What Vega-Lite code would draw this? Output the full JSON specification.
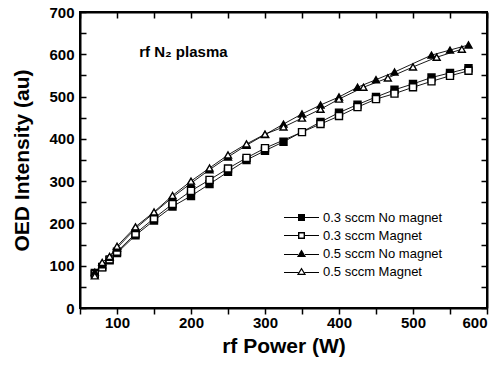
{
  "$schema": "https://vega.github.io/schema/vega-lite/v6.json",
  "width": 502,
  "height": 368,
  "autosize": {"type": "fit", "contains": "padding"},
  "padding": {"left": 11, "top": 5, "right": 14, "bottom": 12},
  "config": {
    "font": "Liberation Sans",
    "view": {"stroke": "black", "strokeWidth": 2},
    "axis": {"grid": false, "ticks": true, "domain": true, "domainColor": "black", "tickColor": "black", "domainWidth": 2, "tickWidth": 1.5, "labelColor": "black", "titleColor": "black", "labelFont": "Liberation Sans", "titleFont": "Liberation Sans"}
  },
  "datasets": {
    "oed": [
      {"power": 70, "intensity": 83, "series": "0.3 sccm No magnet"},
      {"power": 80, "intensity": 97, "series": "0.3 sccm No magnet"},
      {"power": 90, "intensity": 113, "series": "0.3 sccm No magnet"},
      {"power": 100, "intensity": 130, "series": "0.3 sccm No magnet"},
      {"power": 125, "intensity": 172, "series": "0.3 sccm No magnet"},
      {"power": 150, "intensity": 207, "series": "0.3 sccm No magnet"},
      {"power": 175, "intensity": 240, "series": "0.3 sccm No magnet"},
      {"power": 200, "intensity": 265, "series": "0.3 sccm No magnet"},
      {"power": 225, "intensity": 293, "series": "0.3 sccm No magnet"},
      {"power": 250, "intensity": 322, "series": "0.3 sccm No magnet"},
      {"power": 275, "intensity": 350, "series": "0.3 sccm No magnet"},
      {"power": 300, "intensity": 372, "series": "0.3 sccm No magnet"},
      {"power": 325, "intensity": 393, "series": "0.3 sccm No magnet"},
      {"power": 375, "intensity": 440, "series": "0.3 sccm No magnet"},
      {"power": 400, "intensity": 462, "series": "0.3 sccm No magnet"},
      {"power": 425, "intensity": 481, "series": "0.3 sccm No magnet"},
      {"power": 450, "intensity": 499, "series": "0.3 sccm No magnet"},
      {"power": 475, "intensity": 516, "series": "0.3 sccm No magnet"},
      {"power": 500, "intensity": 530, "series": "0.3 sccm No magnet"},
      {"power": 525, "intensity": 545, "series": "0.3 sccm No magnet"},
      {"power": 550, "intensity": 556, "series": "0.3 sccm No magnet"},
      {"power": 575, "intensity": 567, "series": "0.3 sccm No magnet"},

      {"power": 70, "intensity": 80, "series": "0.3 sccm Magnet"},
      {"power": 80, "intensity": 96, "series": "0.3 sccm Magnet"},
      {"power": 90, "intensity": 115, "series": "0.3 sccm Magnet"},
      {"power": 100, "intensity": 133, "series": "0.3 sccm Magnet"},
      {"power": 125, "intensity": 176, "series": "0.3 sccm Magnet"},
      {"power": 150, "intensity": 212, "series": "0.3 sccm Magnet"},
      {"power": 175, "intensity": 246, "series": "0.3 sccm Magnet"},
      {"power": 200, "intensity": 277, "series": "0.3 sccm Magnet"},
      {"power": 225, "intensity": 303, "series": "0.3 sccm Magnet"},
      {"power": 250, "intensity": 330, "series": "0.3 sccm Magnet"},
      {"power": 275, "intensity": 355, "series": "0.3 sccm Magnet"},
      {"power": 300, "intensity": 378, "series": "0.3 sccm Magnet"},
      {"power": 350, "intensity": 416, "series": "0.3 sccm Magnet"},
      {"power": 375, "intensity": 435, "series": "0.3 sccm Magnet"},
      {"power": 400, "intensity": 454, "series": "0.3 sccm Magnet"},
      {"power": 425, "intensity": 475, "series": "0.3 sccm Magnet"},
      {"power": 450, "intensity": 494, "series": "0.3 sccm Magnet"},
      {"power": 475, "intensity": 507, "series": "0.3 sccm Magnet"},
      {"power": 500, "intensity": 522, "series": "0.3 sccm Magnet"},
      {"power": 525, "intensity": 536, "series": "0.3 sccm Magnet"},
      {"power": 550, "intensity": 549, "series": "0.3 sccm Magnet"},
      {"power": 575, "intensity": 561, "series": "0.3 sccm Magnet"},

      {"power": 70, "intensity": 85, "series": "0.5 sccm No magnet"},
      {"power": 80, "intensity": 102, "series": "0.5 sccm No magnet"},
      {"power": 90, "intensity": 120, "series": "0.5 sccm No magnet"},
      {"power": 100, "intensity": 142, "series": "0.5 sccm No magnet"},
      {"power": 125, "intensity": 188, "series": "0.5 sccm No magnet"},
      {"power": 150, "intensity": 225, "series": "0.5 sccm No magnet"},
      {"power": 175, "intensity": 262, "series": "0.5 sccm No magnet"},
      {"power": 200, "intensity": 295, "series": "0.5 sccm No magnet"},
      {"power": 225, "intensity": 327, "series": "0.5 sccm No magnet"},
      {"power": 250, "intensity": 357, "series": "0.5 sccm No magnet"},
      {"power": 275, "intensity": 385, "series": "0.5 sccm No magnet"},
      {"power": 300, "intensity": 410, "series": "0.5 sccm No magnet"},
      {"power": 325, "intensity": 435, "series": "0.5 sccm No magnet"},
      {"power": 350, "intensity": 459, "series": "0.5 sccm No magnet"},
      {"power": 375, "intensity": 480, "series": "0.5 sccm No magnet"},
      {"power": 400, "intensity": 499, "series": "0.5 sccm No magnet"},
      {"power": 425, "intensity": 522, "series": "0.5 sccm No magnet"},
      {"power": 450, "intensity": 540, "series": "0.5 sccm No magnet"},
      {"power": 475, "intensity": 558, "series": "0.5 sccm No magnet"},
      {"power": 525, "intensity": 598, "series": "0.5 sccm No magnet"},
      {"power": 550, "intensity": 610, "series": "0.5 sccm No magnet"},
      {"power": 575, "intensity": 622, "series": "0.5 sccm No magnet"},

      {"power": 70, "intensity": 76, "series": "0.5 sccm Magnet"},
      {"power": 80, "intensity": 108, "series": "0.5 sccm Magnet"},
      {"power": 90, "intensity": 122, "series": "0.5 sccm Magnet"},
      {"power": 100, "intensity": 146, "series": "0.5 sccm Magnet"},
      {"power": 125, "intensity": 192, "series": "0.5 sccm Magnet"},
      {"power": 150, "intensity": 227, "series": "0.5 sccm Magnet"},
      {"power": 175, "intensity": 266, "series": "0.5 sccm Magnet"},
      {"power": 200, "intensity": 300, "series": "0.5 sccm Magnet"},
      {"power": 225, "intensity": 331, "series": "0.5 sccm Magnet"},
      {"power": 250, "intensity": 362, "series": "0.5 sccm Magnet"},
      {"power": 275, "intensity": 388, "series": "0.5 sccm Magnet"},
      {"power": 300, "intensity": 411, "series": "0.5 sccm Magnet"},
      {"power": 325, "intensity": 428, "series": "0.5 sccm Magnet"},
      {"power": 350, "intensity": 449, "series": "0.5 sccm Magnet"},
      {"power": 375, "intensity": 470, "series": "0.5 sccm Magnet"},
      {"power": 400, "intensity": 494, "series": "0.5 sccm Magnet"},
      {"power": 433, "intensity": 522, "series": "0.5 sccm Magnet"},
      {"power": 466, "intensity": 544, "series": "0.5 sccm Magnet"},
      {"power": 500, "intensity": 570, "series": "0.5 sccm Magnet"},
      {"power": 532, "intensity": 593, "series": "0.5 sccm Magnet"},
      {"power": 566, "intensity": 612, "series": "0.5 sccm Magnet"}
    ],
    "note": [
      {"power": 130, "intensity": 605, "label": "rf N₂ plasma"}
    ]
  },
  "layer": [
    {
      "data": {"name": "oed"},
      "mark": {"type": "line", "color": "black", "strokeWidth": 0.9},
      "encoding": {
        "x": {
          "field": "power", "type": "quantitative",
          "scale": {"domain": [50, 600], "nice": false, "zero": false},
          "axis": {
            "orient": "bottom",
            "values": [50, 100, 150, 200, 250, 300, 350, 400, 450, 500, 550, 600],
            "labelExpr": "datum.value % 100 === 0 ? datum.label : ''",
            "ticks": true, "tickSize": 6, "labelPadding": 1,
            "labelFontSize": 15, "labelFontWeight": "bold",
            "title": "rf Power (W)", "titleFontSize": 21, "titleFontWeight": "bold", "titlePadding": 5
          }
        },
        "y": {
          "field": "intensity", "type": "quantitative",
          "scale": {"domain": [0, 700], "nice": false},
          "axis": {
            "orient": "left",
            "values": [0, 50, 100, 150, 200, 250, 300, 350, 400, 450, 500, 550, 600, 650, 700],
            "labelExpr": "datum.value % 100 === 0 ? datum.label : ''",
            "ticks": true, "tickSize": -6, "labelPadding": 12,
            "labelFontSize": 15, "labelFontWeight": "bold",
            "title": "OED Intensity (au)", "titleFontSize": 21, "titleFontWeight": "bold", "titlePadding": 16
          }
        },
        "detail": {"field": "series"}
      }
    },
    {
      "data": {"name": "oed"},
      "mark": {"type": "point", "filled": false, "stroke": "black", "strokeWidth": 1.4, "opacity": 1},
      "encoding": {
        "x": {
          "field": "power", "type": "quantitative",
          "axis": {"orient": "top", "values": [50, 100, 150, 200, 250, 300, 350, 400, 450, 500, 550, 600], "labels": false, "ticks": true, "tickSize": -6, "title": null}
        },
        "y": {
          "field": "intensity", "type": "quantitative",
          "axis": {"orient": "right", "values": [0, 50, 100, 150, 200, 250, 300, 350, 400, 450, 500, 550, 600, 650, 700], "labels": false, "ticks": true, "tickSize": -6, "title": null}
        },
        "shape": {
          "field": "series", "type": "nominal",
          "scale": {"domain": ["0.3 sccm No magnet", "0.3 sccm Magnet", "0.5 sccm No magnet", "0.5 sccm Magnet"], "range": ["square", "square", "triangle-up", "triangle-up"]},
          "legend": null
        },
        "fill": {
          "field": "series", "type": "nominal",
          "scale": {"domain": ["0.3 sccm No magnet", "0.3 sccm Magnet", "0.5 sccm No magnet", "0.5 sccm Magnet"], "range": ["black", "white", "black", "white"]},
          "legend": null
        },
        "size": {
          "field": "series", "type": "nominal",
          "scale": {"domain": ["0.3 sccm No magnet", "0.3 sccm Magnet", "0.5 sccm No magnet", "0.5 sccm Magnet"], "range": [49, 49, 121, 121]},
          "legend": null
        }
      }
    },
    {
      "data": {"name": "oed"},
      "mark": {"type": "point", "filled": true, "color": "black", "opacity": 0},
      "encoding": {
        "x": {"field": "power", "type": "quantitative", "axis": null},
        "y": {"field": "intensity", "type": "quantitative", "axis": null},
        "shape": {
          "field": "series", "type": "nominal", "title": null,
          "scale": {
            "domain": ["0.3 sccm No magnet", "0.3 sccm Magnet", "0.5 sccm No magnet", "0.5 sccm Magnet"],
            "range": [
              "M-5,-0.14H-1V0.14H-5ZM1,-0.14H5V0.14H1ZM-1,-1H1V1H-1Z",
              "M-5,-0.14H-1V0.14H-5ZM1,-0.14H5V0.14H1ZM-1,-1H1V1H-1ZM-0.6,-0.6V0.6H0.6V-0.6Z",
              "M-5,0.16H-1V0.44H-5ZM1,0.16H5V0.44H1ZM0,-1.15L1.3,1H-1.3Z",
              "M-5,0.16H-0.9V0.44H-5ZM0.9,0.16H5V0.44H0.9ZM0,-1.15L1.3,1H-1.3ZM0,-0.5L-0.7,0.65H0.7Z"
            ]
          },
          "legend": {
            "orient": "none", "legendX": 215, "legendY": 199,
            "padding": 0, "rowPadding": 4,
            "symbolSize": 49, "symbolFillColor": "black", "symbolStrokeColor": "black", "symbolStrokeWidth": 0,
            "symbolOpacity": 1,
            "labelFontSize": 13, "labelColor": "black", "labelOffset": 15, "labelLimit": 300,
            "encode": {"symbols": {"update": {"opacity": {"value": 1}, "fill": {"value": "black"}, "fillOpacity": {"value": 1}}}}
          }
        }
      }
    },
    {
      "data": {"name": "note"},
      "mark": {"type": "text", "align": "left", "baseline": "middle", "fontSize": 15, "fontWeight": "bold", "color": "black"},
      "encoding": {
        "x": {"field": "power", "type": "quantitative", "axis": null},
        "y": {"field": "intensity", "type": "quantitative", "axis": null},
        "text": {"field": "label"}
      }
    }
  ],
  "resolve": {"axis": {"x": "independent", "y": "independent"}, "scale": {"shape": "independent"}}
}
